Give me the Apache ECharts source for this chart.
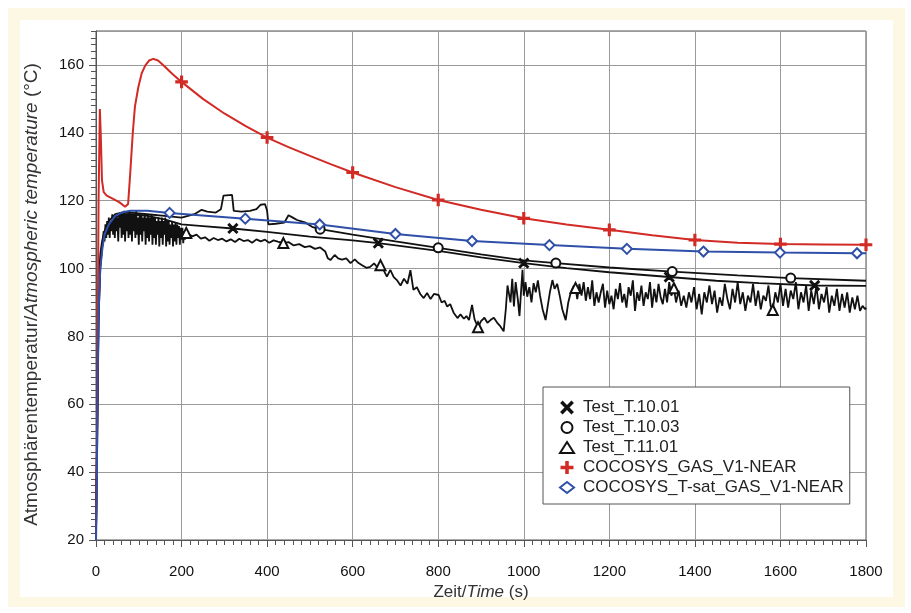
<!DOCTYPE html>
<html>
<head>
<meta charset="utf-8">
<script src="https://cdn.jsdelivr.net/npm/echarts/dist/echarts.min.js"></script>
<style>
  body { margin: 0; background: #fff; }
  #frame { position: absolute; left: 8px; top: 8px; width: 897px; height: 599px; background: #fcf8e3; }
  #panel { position: absolute; left: 20px; top: 20px; width: 873px; height: 577px; background: #fff; }
  #chart { position: absolute; left: 0; top: 0; width: 911px; height: 613px; }
</style>
</head>
<body>
<div id="frame"></div>
<div id="panel"></div>
<div id="chart"></div>
<script>
// series names (legend order)
const seriesNames = ['Test_T.10.01', 'Test_T.10.03', 'Test_T.11.01', 'COCOSYS_GAS_V1-NEAR', 'COCOSYS_T-sat_GAS_V1-NEAR'];

// [time s, temperature °C]
const test1001 = [
  [0, 22], [3, 50], [6, 85], [10, 100], [15, 107], [20, 110], [30, 113], [45, 115], [60, 116], [80, 116],
  [120, 115.5], [160, 114.5], [200, 113], [250, 112.5], [320, 111.8], [400, 110.8], [500, 109.4], [600, 108.3],
  [660, 107.5], [800, 105.2], [900, 103.3], [1000, 101.6], [1100, 100.1], [1200, 98.9], [1340, 97.5],
  [1450, 96.4], [1550, 95.7], [1680, 95], [1800, 94.9]
];
const test1001Marks = [320, 660, 1000, 1340, 1680];

const test1003 = [
  [0, 22], [3, 55], [6, 88], [10, 102], [15, 108], [20, 111], [30, 114], [45, 116], [60, 116.5], [80, 116.5],
  [120, 116], [160, 115.5], [200, 115], [230, 116], [247, 117.3], [260, 116.8], [280, 116.5], [292, 117.5],
  [298, 121.5], [318, 121.7], [322, 117], [340, 116.8], [360, 117], [375, 117.5], [385, 118.8], [395, 119],
  [400, 117], [403, 113], [420, 113.2], [440, 113.5], [450, 115.7], [460, 115], [470, 114.3], [490, 113.5],
  [505, 112.3], [524, 111.6], [600, 110], [700, 108], [800, 106.1], [900, 104.2], [1000, 102.4], [1075, 101.6],
  [1200, 100.3], [1347, 99.1], [1500, 98], [1624, 97.2], [1800, 96.4]
];
const test1003Marks = [524, 800, 1075, 1347, 1624];

const test1101 = [
  [0, 21], [2, 45], [4, 75], [6, 92], [8, 100], [10, 104], [13, 107], [16, 109],
  [18, 111], [20, 108], [22, 113], [24, 109], [26, 114], [28, 110], [30, 115], [32, 109], [34, 114], [36, 111],
  [38, 116], [40, 110], [42, 115], [44, 109], [46, 116], [48, 111], [50, 115], [52, 108], [54, 116], [56, 112],
  [58, 116], [60, 109], [62, 116], [64, 110], [66, 117], [68, 108], [70, 116], [72, 111], [74, 116], [76, 109],
  [78, 117], [80, 110], [82, 116], [84, 108], [86, 116], [88, 111], [90, 116], [92, 109], [94, 117], [96, 110],
  [98, 115], [100, 107], [102, 116], [104, 110], [106, 116], [108, 108], [110, 115], [112, 111], [114, 116],
  [116, 107], [118, 115], [120, 109], [122, 116], [124, 108], [126, 115], [128, 110], [130, 116], [132, 107],
  [134, 115], [136, 109], [138, 115], [140, 107], [142, 114], [144, 110], [146, 115], [148, 106.5], [150, 114],
  [152, 109], [154, 115], [156, 107], [158, 114], [160, 110], [162, 115], [164, 106.5], [166, 114], [168, 108],
  [170, 114], [172, 107], [174, 113], [176, 109], [178, 114], [180, 106.5], [182, 113], [184, 108], [186, 113.5],
  [188, 107], [190, 113], [192, 109], [194, 112.5], [196, 107], [198, 112], [200, 108.5], [202, 112],
  [204, 107.5], [206, 111], [208, 108.5], [211, 110.5],
  [225, 109.5], [235, 110], [245, 108.8], [255, 109.2], [265, 108.2], [275, 109], [285, 108.4], [295, 108.8],
  [305, 108], [315, 108.6], [325, 107.8], [335, 108.8], [345, 108.1], [355, 108.4], [365, 107.6], [375, 108.6],
  [385, 108], [395, 108.5], [405, 107.6], [415, 108.3], [425, 107.9], [438, 107.5], [450, 107.8], [462, 106.8],
  [475, 107.2], [488, 106.3], [500, 106.6], [512, 105.8], [524, 106.2], [536, 105], [542, 103], [548, 102.5],
  [558, 104], [566, 103], [575, 102.6], [585, 103], [595, 101.6], [605, 102.7], [612, 101.8], [622, 101],
  [632, 100.2], [641, 100.5], [650, 101.5], [658, 100.3], [665, 101], [672, 99.6], [680, 97.6], [688, 99.6],
  [696, 97.5], [704, 96.5], [712, 95], [720, 97], [728, 95.5], [735, 99.5], [739, 99], [742, 93.7], [750, 94.5],
  [758, 92.5], [766, 91.3], [774, 92.8], [782, 91], [790, 92.5], [801, 92.2], [808, 90], [815, 90.5], [821, 88.8],
  [828, 89.5], [836, 87], [845, 85.4], [852, 86.5], [860, 85.2], [866, 86], [872, 84.8], [879, 89.3], [885, 85],
  [893, 82.7], [900, 84.5], [908, 85.5], [915, 84], [922, 84.8], [930, 85.5], [938, 84], [945, 83], [953, 81.5],
  [958, 88], [962, 95], [965, 94.7], [969, 90], [973, 97], [977, 88.8], [981, 96], [986, 91], [990, 86], [994, 94],
  [997, 99.6], [1000, 92], [1004, 96], [1008, 91.7], [1013, 94.5], [1018, 90], [1023, 95.7], [1028, 93],
  [1033, 96.5], [1038, 92], [1044, 88], [1051, 84.8], [1056, 89], [1061, 93], [1067, 96.6], [1072, 94],
  [1078, 95.5], [1084, 92], [1090, 88], [1098, 84.8], [1104, 90], [1110, 93], [1117, 95], [1121, 94.3],
  [1125, 91], [1130, 95.5], [1135, 92], [1140, 96], [1145, 90.5], [1150, 94.5], [1155, 91], [1160, 96.5],
  [1165, 89], [1170, 93], [1175, 90], [1180, 93], [1185, 95.5], [1190, 88.5], [1195, 93.5], [1200, 89.5],
  [1205, 92], [1210, 88], [1215, 94], [1220, 91], [1225, 95.7], [1230, 90], [1235, 92.5], [1240, 88.5],
  [1245, 94.5], [1250, 92], [1255, 96.5], [1260, 87.5], [1265, 93], [1270, 90.5], [1275, 95], [1280, 89],
  [1285, 93], [1290, 91], [1295, 96], [1300, 88.5], [1305, 94], [1310, 90], [1315, 95.5], [1320, 91.5],
  [1325, 89.5], [1330, 94], [1335, 90], [1340, 96], [1345, 92], [1351, 94.2], [1356, 90], [1362, 93.5],
  [1368, 89], [1374, 92], [1380, 88.5], [1386, 93], [1392, 90], [1398, 94.5], [1404, 88], [1410, 92.5],
  [1416, 86.5], [1422, 93], [1428, 90], [1434, 95], [1440, 89.5], [1446, 93.5], [1452, 87], [1458, 91.5],
  [1464, 89], [1470, 95.5], [1476, 91], [1482, 88], [1488, 94], [1494, 90], [1500, 96], [1506, 89.5],
  [1512, 93], [1518, 87.5], [1524, 92], [1530, 90], [1536, 95.5], [1542, 89], [1548, 93.5], [1554, 88],
  [1560, 92], [1566, 90.5], [1572, 95], [1577, 89], [1582, 87.8], [1588, 93], [1594, 90], [1600, 95.5],
  [1606, 89], [1612, 94], [1618, 88.5], [1624, 93.5], [1630, 91], [1636, 96], [1642, 88], [1648, 93],
  [1654, 90], [1660, 95], [1666, 87.5], [1672, 93.5], [1678, 89.5], [1684, 95], [1690, 88], [1696, 92.5],
  [1702, 90], [1708, 94.5], [1714, 87], [1720, 92], [1726, 89], [1732, 94], [1738, 87.5], [1744, 92.5],
  [1750, 88.5], [1756, 93], [1762, 87], [1768, 91.5], [1774, 88], [1780, 92], [1786, 87.5], [1792, 89],
  [1798, 88], [1800, 88.5]
];
const test1101Marks = [211, 438, 665, 893, 1121, 1351, 1582];

const cocosysGas = [
  [0, 20], [3, 60], [6, 120], [9, 147], [11, 140], [14, 126], [18, 122.5], [25, 121.5], [40, 120.5], [55, 119.5],
  [68, 118.2], [75, 119], [80, 128], [86, 140], [91, 147.7], [99, 153.5], [107, 157.6], [115, 159.8],
  [124, 161.3], [134, 161.8], [145, 161.3], [160, 159.6], [180, 157.2], [200, 155], [250, 150], [300, 145.7],
  [350, 142], [400, 138.6], [450, 135.8], [500, 133.2], [550, 130.7], [600, 128.3], [700, 124], [800, 120.2],
  [900, 117.3], [1000, 114.8], [1100, 113], [1200, 111.4], [1300, 109.8], [1400, 108.4], [1500, 107.6],
  [1600, 107.2], [1700, 107.1], [1800, 107]
];
const cocosysGasMarks = [200, 400, 600, 800, 1000, 1200, 1400, 1600, 1800];

const cocosysSat = [
  [0, 20], [2, 40], [4, 70], [7, 90], [10, 100], [15, 106], [20, 110], [30, 113], [45, 115.5], [60, 116.5],
  [80, 117], [120, 117], [172, 116.4], [349, 114.7], [523, 113], [700, 110.2], [879, 108.1], [1060, 106.9],
  [1241, 105.8], [1420, 105], [1599, 104.7], [1779, 104.5], [1800, 104.5]
];
const cocosysSatMarks = [172, 349, 523, 700, 879, 1060, 1241, 1420, 1599, 1779];

// axis ticks
const xMin = 0, xMax = 1800, xStep = 200;
const yMin = 20, yMax = 170, yStep = 20;

const symX = 'path://M0,1L1,0L5,4L9,0L10,1L6,5L10,9L9,10L5,6L1,10L0,9L4,5Z';
const symPlus = 'path://M4.3,0H5.7V4.3H10V5.7H5.7V10H4.3V5.7H0V4.3H4.3Z';

const font = "'Liberation Sans', Arial, sans-serif";

function withMarks(points, marks, symbol, size) {
  return points.map(p => marks.indexOf(p[0]) >= 0
    ? { value: p, symbol: symbol, symbolSize: size }
    : { value: p, symbol: 'none' });
}

function lineSeries(name, points, marks, symbol, size, color, width, z) {
  return {
    name: name,
    type: 'line',
    data: withMarks(points, marks, symbol, size),
    symbol: symbol,
    symbolSize: size,
    showSymbol: true,
    showAllSymbol: true,
    animation: false,
    z: z,
    lineStyle: { color: color, width: width },
    itemStyle: { color: color, borderColor: color, borderWidth: 1.6 },
    emphasis: { disabled: true }
  };
}

const chart = echarts.init(document.getElementById('chart'));

const option = {
  animation: false,
  grid: { left: 96, right: 45, top: 31, bottom: 73, show: true, borderColor: '#555', borderWidth: 1, outerBoundsMode: 'none' },
  legend: {
    orient: 'vertical',
    left: 543,
    top: 387,
    padding: [12, 6, 8, 16],
    itemGap: 3,
    itemWidth: 14,
    itemHeight: 11,
    backgroundColor: '#fff',
    borderColor: '#555',
    borderWidth: 1,
    textStyle: { fontFamily: font, fontSize: 17, color: '#222', padding: [0, 0, 0, 4] },
    data: [
      { name: seriesNames[0], icon: symX },
      { name: seriesNames[1], icon: 'emptyCircle' },
      { name: seriesNames[2], icon: 'emptyTriangle' },
      { name: seriesNames[3], icon: symPlus },
      { name: seriesNames[4], icon: 'emptyDiamond' }
    ]
  },
  xAxis: {
    type: 'value',
    min: xMin,
    max: xMax,
    interval: xStep,
    name: '{a|Zeit/}{b|Time}{a| (s)}',
    nameLocation: 'middle',
    nameGap: 44,
    nameTextStyle: {
      rich: {
        a: { fontFamily: font, fontSize: 17, color: '#333' },
        b: { fontFamily: font, fontSize: 17, color: '#333', fontStyle: 'italic' }
      }
    },
    axisLine: { show: true, lineStyle: { color: '#555' } },
    axisTick: { show: true, length: 7, lineStyle: { color: '#555' } },
    minorTick: { show: true, splitNumber: 10, length: 5, lineStyle: { color: '#555' } },
    axisLabel: { margin: 24, fontFamily: font, fontSize: 15, color: '#111', formatter: v => String(v) },
    splitLine: { show: true, lineStyle: { color: '#9a9a9a', width: 1 } },
    minorSplitLine: { show: false }
  },
  yAxis: [
    {
      type: 'value',
      min: yMin,
      max: yMax,
      interval: yStep,
      name: '{a|Atmosphärentemperatur/}{b|Atmospheric temperature}{a| (°C)}',
      nameLocation: 'middle',
      nameGap: 55,
      nameRotate: 90,
      nameTextStyle: {
        padding: [0, 18, 0, 0],
        rich: {
          a: { fontFamily: font, fontSize: 19, color: '#333' },
          b: { fontFamily: font, fontSize: 19, color: '#333', fontStyle: 'italic' }
        }
      },
      axisLine: { show: true, lineStyle: { color: '#555' } },
      axisTick: { show: true, length: 7, lineStyle: { color: '#555' } },
      axisLabel: { margin: 12, fontFamily: font, fontSize: 15, color: '#111', showMaxLabel: false },
      splitLine: { show: true, lineStyle: { color: '#9a9a9a', width: 1 } }
    },
    {
      type: 'value',
      min: yMin,
      max: yMax,
      interval: 2,
      position: 'left',
      axisLine: { show: false },
      axisTick: { show: true, length: 5, lineStyle: { color: '#555' } },
      axisLabel: { show: false },
      splitLine: { show: false }
    }
  ],
  series: [
    lineSeries(seriesNames[0], test1001, test1001Marks, symX, 9, '#111', 1.8, 3),
    lineSeries(seriesNames[1], test1003, test1003Marks, 'emptyCircle', 9, '#111', 1.8, 3),
    lineSeries(seriesNames[2], test1101, test1101Marks, 'emptyTriangle', 10, '#111', 1.8, 3),
    lineSeries(seriesNames[3], cocosysGas, cocosysGasMarks, symPlus, 11, '#d22a25', 2, 4),
    lineSeries(seriesNames[4], cocosysSat, cocosysSatMarks, 'emptyDiamond', 10, '#2f4fa8', 2, 5)
  ]
};

chart.setOption(option);
window.addEventListener('resize', () => chart.resize());
</script>
</body>
</html>
